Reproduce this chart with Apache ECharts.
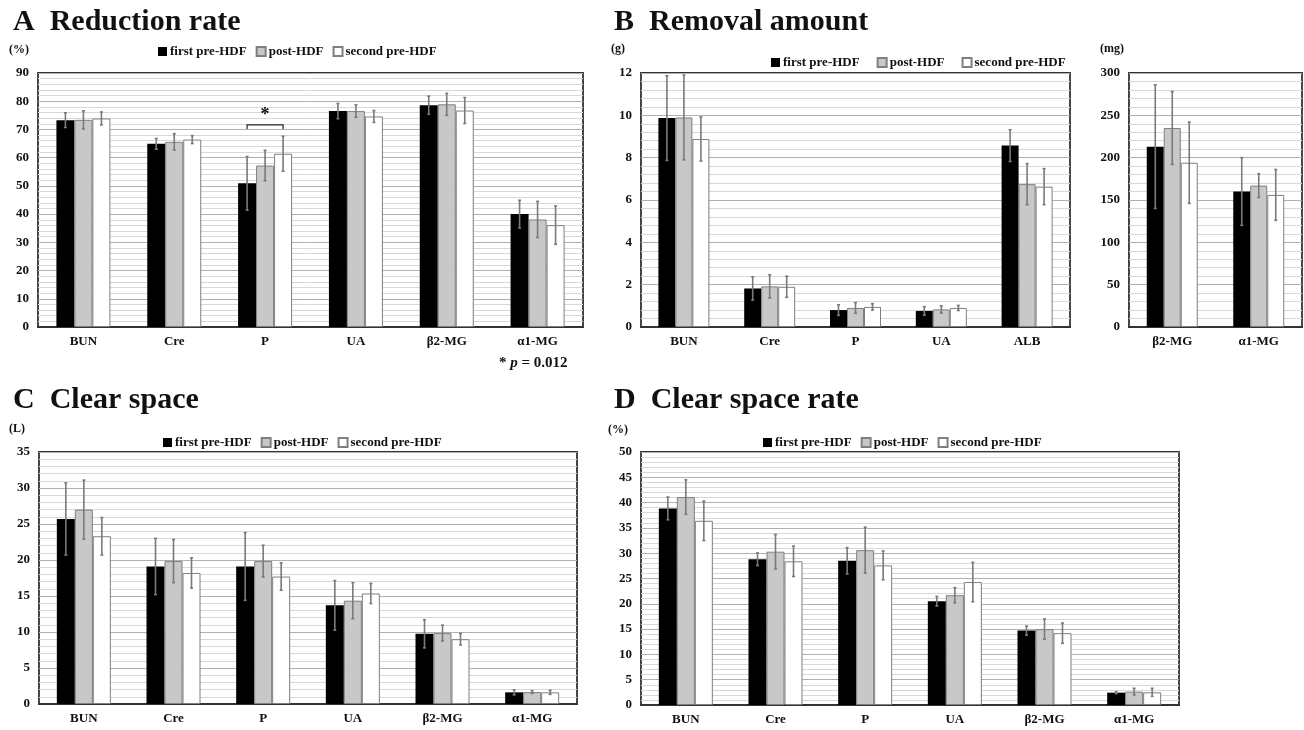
<!DOCTYPE html>
<html>
<head>
<meta charset="utf-8">
<script src="https://cdn.jsdelivr.net/npm/echarts@6/dist/echarts.min.js"></script>
<style>
  html, body { margin: 0; padding: 0; background: #fff; }
  #main { width: 1304px; height: 730px; }
</style>
</head>
<body>
<div id="main"></div>
<script>
// categories
var catA = ['BUN', 'Cre', 'P', 'UA', 'β2-MG', 'α1-MG'];
var catB = ['BUN', 'Cre', 'P', 'UA', 'ALB'];
var catB2 = ['β2-MG', 'α1-MG'];
var groups = ['first pre-HDF', 'post-HDF', 'second pre-HDF'];

// A  Reduction rate (%)
var rateFirst = [73.3, 64.9, 50.9, 76.5, 78.6, 40.0];
var rateFirstSd = [2.6, 1.9, 9.5, 2.7, 3.2, 4.9];
var ratePost = [73.4, 65.6, 57.2, 76.5, 78.9, 38.1];
var ratePostSd = [3.2, 2.9, 5.4, 2.2, 3.9, 6.4];
var rateSecond = [73.9, 66.4, 61.4, 74.6, 76.7, 36.1];
var rateSecondSd = [2.3, 1.4, 6.2, 2.1, 4.6, 6.8];

// B  Removal amount (g)
var remFirst = [9.87, 1.82, 0.80, 0.76, 8.57];
var remFirstSd = [2.0, 0.55, 0.25, 0.2, 0.75];
var remPost = [9.9, 1.92, 0.90, 0.83, 6.75];
var remPostSd = [2.0, 0.55, 0.25, 0.17, 0.97];
var remSecond = [8.88, 1.90, 0.95, 0.90, 6.63];
var remSecondSd = [1.04, 0.5, 0.15, 0.12, 0.85];

// B  Removal amount (mg)
var remMgFirst = [213, 160];
var remMgFirstSd = [73, 40];
var remMgPost = [235, 167];
var remMgPostSd = [43, 14];
var remMgSecond = [194, 156];
var remMgSecondSd = [48, 30];

// C  Clear space (L)
var csFirst = [25.7, 19.1, 19.1, 13.7, 9.75, 1.62];
var csFirstSd = [5.0, 3.9, 4.7, 3.45, 1.95, 0.35];
var csPost = [27.0, 19.85, 19.85, 14.35, 9.85, 1.66];
var csPostSd = [4.1, 3.0, 2.2, 2.5, 1.1, 0.2];
var csSecond = [23.3, 18.2, 17.7, 15.35, 9.0, 1.62];
var csSecondSd = [2.6, 2.1, 1.9, 1.4, 0.8, 0.28];

// D  Clear space rate (%)
var csrFirst = [38.85, 28.8, 28.5, 20.5, 14.7, 2.44];
var csrFirstSd = [2.25, 1.25, 2.6, 0.95, 0.9, 0.2];
var csrPost = [41.1, 30.3, 30.6, 21.7, 15.0, 2.64];
var csrPostSd = [3.4, 3.4, 4.55, 1.5, 2.0, 0.66];
var csrSecond = [36.4, 28.4, 27.6, 24.3, 14.2, 2.5];
var csrSecondSd = [3.9, 3.0, 2.85, 3.9, 2.0, 0.8];

var FONT = '"Liberation Serif", "Times New Roman", serif';
var barStyles = [
  { color: '#000000', borderColor: '#000000', borderWidth: 0 },
  { color: '#c8c8c8', borderColor: '#7f7f7f', borderWidth: 1 },
  { color: '#ffffff', borderColor: '#7f7f7f', borderWidth: 1 }
];

var grids = [
  { left: 38, top: 73, width: 545, height: 254 },
  { left: 641, top: 73, width: 429, height: 254 },
  { left: 1129, top: 73, width: 173, height: 254 },
  { left: 39, top: 452, width: 538, height: 252 },
  { left: 641, top: 452, width: 538, height: 253 }
];
grids.forEach(function (g) {
  g.show = true;
  g.borderColor = '#333333';
  g.borderWidth = 1.8;
  g.backgroundColor = '#fff';
});

var yScales = [
  { max: 90, interval: 10 },
  { max: 12, interval: 2 },
  { max: 300, interval: 50 },
  { max: 35, interval: 5 },
  { max: 50, interval: 5 }
];
var cats = [catA, catB, catB2, catA, catA];
var barW = [18, 17, 17, 18, 18];

var xAxes = cats.map(function (c, i) {
  return {
    type: 'category', gridIndex: i, data: c,
    axisLine: { show: true, lineStyle: { color: '#333', width: 1.8 } },
    axisTick: { show: false },
    axisLabel: { color: '#111', fontFamily: FONT, fontWeight: 'bold', fontSize: 13, margin: 8 }
  };
});
var yAxes = yScales.map(function (s, i) {
  return {
    type: 'value', gridIndex: i, min: 0, max: s.max, interval: s.interval,
    axisLine: { show: false }, axisTick: { show: false },
    axisLabel: { color: '#111', fontFamily: FONT, fontWeight: 'bold', fontSize: 13, margin: 9 },
    splitLine: { lineStyle: { color: '#b0b0b0', width: 1 } },
    minorTick: { show: false, splitNumber: 5 },
    minorSplitLine: { show: true, lineStyle: { color: '#d8d8d8', width: 1 } }
  };
});

var panelData = [
  [[rateFirst, rateFirstSd], [ratePost, ratePostSd], [rateSecond, rateSecondSd]],
  [[remFirst, remFirstSd], [remPost, remPostSd], [remSecond, remSecondSd]],
  [[remMgFirst, remMgFirstSd], [remMgPost, remMgPostSd], [remMgSecond, remMgSecondSd]],
  [[csFirst, csFirstSd], [csPost, csPostSd], [csSecond, csSecondSd]],
  [[csrFirst, csrFirstSd], [csrPost, csrPostSd], [csrSecond, csrSecondSd]]
];

function errorRender(bw) {
  return function (params, api) {
    var c = api.value(0), v = api.value(1), sd = api.value(2), g = api.value(3);
    var hi = api.coord([c, v + sd]);
    var lo = api.coord([c, v - sd]);
    var x = hi[0] + (g - 1) * bw;
    var st = { stroke: '#7a7a7a', lineWidth: 1.6 };
    return {
      type: 'group',
      children: [
        { type: 'line', shape: { x1: x, y1: hi[1], x2: x, y2: lo[1] }, style: st },
        { type: 'line', shape: { x1: x - 1.5, y1: hi[1], x2: x + 1.5, y2: hi[1] }, style: st },
        { type: 'line', shape: { x1: x - 1.5, y1: lo[1], x2: x + 1.5, y2: lo[1] }, style: st }
      ]
    };
  };
}

var series = [];
panelData.forEach(function (pd, i) {
  var errData = [];
  pd.forEach(function (grp, g) {
    series.push({
      name: groups[g], type: 'bar', xAxisIndex: i, yAxisIndex: i,
      barWidth: barW[i], barGap: '0%',
      itemStyle: barStyles[g],
      data: grp[0]
    });
    grp[0].forEach(function (v, k) { errData.push([k, v, grp[1][k], g]); });
  });
  series.push({
    type: 'custom', xAxisIndex: i, yAxisIndex: i, z: 5, silent: true,
    renderItem: errorRender(barW[i]),
    encode: { x: 0, y: 1 },
    data: errData
  });
});

// significance bracket over P in panel A (first vs second pre-HDF)
var sigBracket = [[2, 71.6, 70.2]];
series.push({
  type: 'custom', xAxisIndex: 0, yAxisIndex: 0, z: 6, silent: true,
  encode: { x: 0, y: 1 },
  data: sigBracket,
  renderItem: function (params, api) {
    var top = api.coord([api.value(0), api.value(1)]);
    var bot = api.coord([api.value(0), api.value(2)]);
    var x1 = top[0] - barW[0], x2 = top[0] + barW[0];
    return {
      type: 'group',
      children: [
        { type: 'polyline', shape: { points: [[x1, bot[1]], [x1, top[1]], [x2, top[1]], [x2, bot[1]]] }, style: { stroke: '#222', lineWidth: 1.2, fill: null } },
        { type: 'text', style: { x: top[0], y: top[1] - 1, text: '*', textAlign: 'center', textVerticalAlign: 'bottom', font: 'bold 18px ' + FONT, fill: '#111' } }
      ]
    };
  }
});

var legendBase = {
  data: groups, icon: 'rect', itemWidth: 9, itemHeight: 9, itemGap: 9,
  selectedMode: false,
  textStyle: { fontFamily: FONT, fontWeight: 'bold', fontSize: 13, color: '#111', padding: [0, 0, 0, -2] }
};
function legendAt(left, top, gap) {
  var l = Object.assign({}, legendBase, { left: left, top: top });
  if (gap) l.itemGap = gap;
  return l;
}

var titleStyle = { fontFamily: FONT, fontWeight: 'bold', fontSize: 30, color: '#111' };
var smallStyle = { fontFamily: FONT, fontWeight: 'bold', fontSize: 12, color: '#111' };

var option = {
  animation: false,
  textStyle: { fontFamily: FONT },
  title: [
    { text: 'A  Reduction rate', left: 8, top: 2, textStyle: titleStyle },
    { text: 'B  Removal amount', left: 609, top: 2, textStyle: titleStyle },
    { text: 'C  Clear space', left: 8, top: 380, textStyle: titleStyle },
    { text: 'D  Clear space rate', left: 609, top: 380, textStyle: titleStyle },
    { text: '(%)', left: 4, top: 39, textStyle: smallStyle },
    { text: '(g)', left: 606, top: 38, textStyle: smallStyle },
    { text: '(mg)', left: 1095, top: 38, textStyle: smallStyle },
    { text: '(L)', left: 4, top: 418, textStyle: smallStyle },
    { text: '(%)', left: 603, top: 419, textStyle: smallStyle },
    {
      text: '* {i|p} = 0.012', left: 494, top: 351,
      textStyle: {
        fontFamily: FONT, fontWeight: 'bold', fontSize: 15, color: '#111',
        rich: { i: { fontFamily: FONT, fontStyle: 'italic', fontWeight: 'bold', fontSize: 15, color: '#111' } }
      }
    }
  ],
  legend: [
    legendAt(153, 40),
    legendAt(766, 51, 17),
    legendAt(158, 431),
    legendAt(758, 431)
  ],
  grid: grids,
  xAxis: xAxes,
  yAxis: yAxes,
  series: series
};

var myChart = echarts.init(document.getElementById('main'));
myChart.setOption(option);
</script>
</body>
</html>
